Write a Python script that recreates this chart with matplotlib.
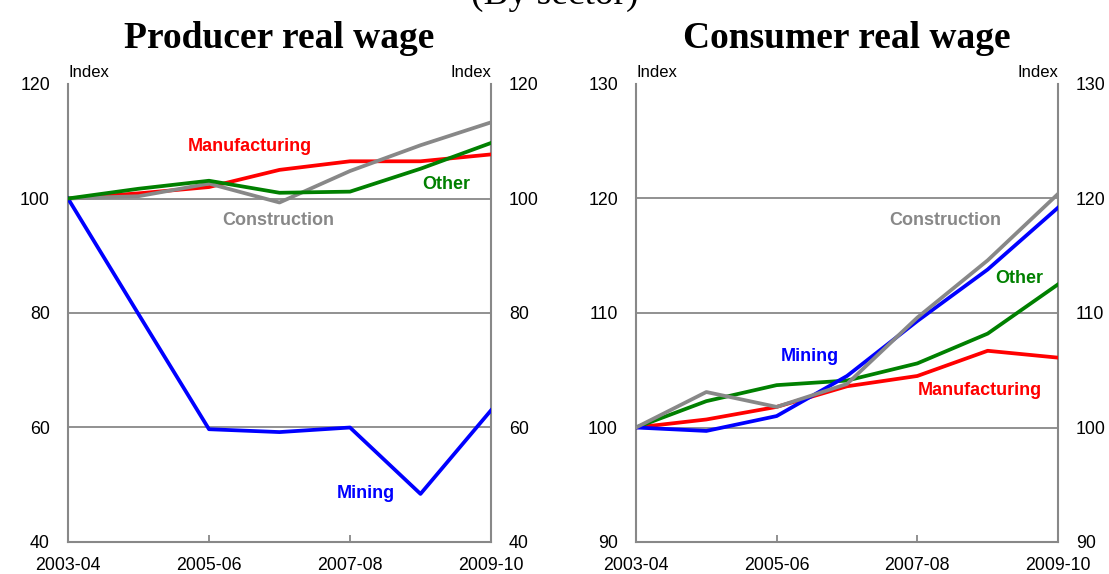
import numpy as np
import matplotlib.pyplot as plt

plt.rcParams['font.family'] = ['Liberation Sans', 'DejaVu Sans']

years = ['2003-04', '2004-05', '2005-06', '2006-07', '2007-08', '2008-09', '2009-10']
tick_labels = ['2003-04', '2005-06', '2007-08', '2009-10']

# Producer real wage (index)
prod_mining = [100, 79.8, 59.7, 59.2, 60.0, 48.4, 63.0]
prod_manufacturing = [100, 100.9, 102.0, 105.0, 106.5, 106.5, 107.7]
prod_other = [100, 101.7, 103.1, 101.0, 101.2, 105.2, 109.7]
prod_construction = [100, 100.4, 102.6, 99.3, 104.8, 109.3, 113.3]

# Consumer real wage (index)
cons_mining = [100, 99.7, 101.0, 104.5, 109.3, 113.8, 119.2]
cons_manufacturing = [100, 100.7, 101.8, 103.6, 104.5, 106.7, 106.1]
cons_other = [100, 102.3, 103.7, 104.1, 105.6, 108.2, 112.5]
cons_construction = [100, 103.1, 101.8, 103.8, 109.6, 114.6, 120.4]

RED, BLUE, GREEN, GREY = '#ff0000', '#0000ff', '#008000', '#888888'

fig = plt.figure(figsize=(11.09, 5.74), dpi=100)
ax1 = fig.add_axes([68 / 1109, 32 / 574, 423 / 1109, 458 / 574])
ax2 = fig.add_axes([636 / 1109, 32 / 574, 422 / 1109, 458 / 574])

x = np.arange(len(years))


def style_axes(ax, ylim, yticks, grid):
    ax.set_xlim(0, len(years) - 1)
    ax.set_ylim(*ylim)
    ax.set_yticks(yticks)
    ax.set_xticks([0, 2, 4, 6])
    ax.set_xticklabels(tick_labels)
    for y in grid:
        ax.axhline(y, color=GREY, lw=1.3, zorder=1)
    for s in ax.spines.values():
        s.set_color(GREY)
        s.set_linewidth(1.5)
    ax.spines['top'].set_visible(False)
    ax.tick_params(axis='x', direction='in', length=5, color=GREY, width=1.3,
                   labelsize=12.8, pad=11)
    ax.tick_params(axis='y', length=0, labelsize=12.8, pad=13,
                   labelleft=True, labelright=True)
    ax.text(0.0, 1.008, 'Index', transform=ax.transAxes, ha='left', va='bottom', fontsize=12)
    ax.text(1.0, 1.008, 'Index', transform=ax.transAxes, ha='right', va='bottom', fontsize=12)


lw = 2.7
ax1.plot(x, prod_manufacturing, color=RED, lw=lw, zorder=3)
ax1.plot(x, prod_construction, color=GREY, lw=lw, zorder=3)
ax1.plot(x, prod_other, color=GREEN, lw=lw, zorder=4)
ax1.plot(x, prod_mining, color=BLUE, lw=lw, zorder=3)
style_axes(ax1, (40, 120), [40, 60, 80, 100, 120], [60, 80, 100])
lab = dict(fontsize=13, fontweight='bold', ha='center', va='center')
ax1.text(2.58, 109.0, 'Manufacturing', color=RED, **lab)
ax1.text(5.36, 102.4, 'Other', color=GREEN, **lab)
ax1.text(2.98, 96.1, 'Construction', color=GREY, **lab)
ax1.text(4.23, 48.4, 'Mining', color=BLUE, **lab)
ax1.set_title('Producer real wage', fontfamily='Liberation Serif', fontweight='bold',
              fontsize=27, pad=26)

ax2.plot(x, cons_manufacturing, color=RED, lw=lw, zorder=3)
ax2.plot(x, cons_other, color=GREEN, lw=lw, zorder=3)
ax2.plot(x, cons_mining, color=BLUE, lw=lw, zorder=3)
ax2.plot(x, cons_construction, color=GREY, lw=lw, zorder=4)
style_axes(ax2, (90, 130), [90, 100, 110, 120, 130], [100, 110, 120])
ax2.text(4.39, 118.06, 'Construction', color=GREY, **lab)
ax2.text(5.45, 113.0, 'Other', color=GREEN, **lab)
ax2.text(2.47, 106.2, 'Mining', color=BLUE, **lab)
ax2.text(4.89, 103.2, 'Manufacturing', color=RED, **lab)
ax2.set_title('Consumer real wage', fontfamily='Liberation Serif', fontweight='bold',
              fontsize=27, pad=26)

# the page heading is cut off at the top edge in the original figure
fig.text(0.5, 1 - 4 / 574, '(By sector)', ha='center', va='baseline',
         fontfamily='Liberation Serif', fontsize=27)

fig.savefig('out.png', dpi=100)
